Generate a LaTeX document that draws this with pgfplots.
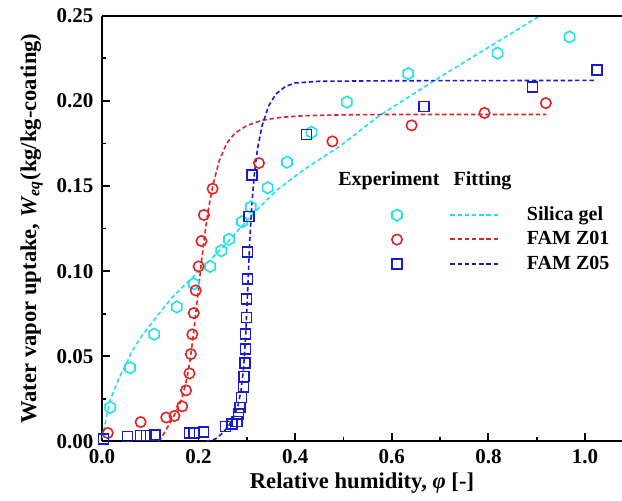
\documentclass[border=0pt]{standalone}
\usepackage{fontspec}
\setmainfont{Liberation Serif}
\usepackage{pgfplots}
\pgfplotsset{compat=1.18}
\definecolor{mycyan}{RGB}{30,225,235}
\definecolor{myred}{RGB}{225,35,35}
\definecolor{myblue}{RGB}{25,25,205}
\pgfdeclareplotmark{hexagon}{%
  \pgfpathmoveto{\pgfqpointpolar{90}{\pgfplotmarksize}}%
  \pgfpathlineto{\pgfqpointpolar{150}{\pgfplotmarksize}}%
  \pgfpathlineto{\pgfqpointpolar{210}{\pgfplotmarksize}}%
  \pgfpathlineto{\pgfqpointpolar{270}{\pgfplotmarksize}}%
  \pgfpathlineto{\pgfqpointpolar{330}{\pgfplotmarksize}}%
  \pgfpathlineto{\pgfqpointpolar{30}{\pgfplotmarksize}}%
  \pgfpathclose
  \pgfusepathqstroke}
\pgfplotsset{
  legimg/.style n args={4}{legend image code/.code={%
    \begin{scope}[yshift=#4]
    \draw[color=#2, line width=0.85pt, dash pattern=on 2.2pt off 1.4pt] (0pt,0pt) -- (24.2pt,0pt);
    \end{scope}
    \path[draw=#2, solid, line width=0.8pt] plot[mark=#1, mark size=#3, mark options={solid}] coordinates {(-26.7pt,0pt)};
    \path (35.9pt,0pt);}},
}
\begin{document}
\begin{tikzpicture}
\begin{axis}[
  scale only axis, width=260pt, height=212.9pt,
  xmin=0, xmax=1.0766, ymin=0, ymax=0.25,
  axis lines=left,
  axis line style={-, line width=1pt},
  xtick={0,0.2,0.4,0.6,0.8,1.0},
  ytick={0,0.05,0.1,0.15,0.2,0.25},
  minor x tick num=1, minor y tick num=1,
  tick align=inside,
  major tick length=4pt, minor tick length=2.2pt,
  every tick/.style={black, solid, line width=0.9pt},
  scaled ticks=false,
  tick label style={font=\fontsize{10.5}{12}\selectfont\bfseries},
  /pgf/number format/.cd, fixed, fixed zerofill, precision=2, assume math mode=true,
  /pgfplots/.cd,
  xticklabel style={/pgf/number format/precision=1, yshift=-0.5pt},
  yticklabel style={xshift=-0.8pt},
  label style={font=\fontsize{11.3}{13}\selectfont\bfseries},
  xlabel={Relative humidity, \textit{φ} [-]},
  ylabel={Water vapor uptake, \textit{W}\textsubscript{\textit{eq}}(kg/kg-coating)},
  xlabel style={yshift=2.5pt},
  ylabel style={yshift=0pt},
  legend columns=1,
  legend cell align=left,
  legend style={draw=none, fill=none, font=\fontsize{10}{12}\selectfont\bfseries,
    inner sep=0pt, outer sep=0pt,
    at={(axis cs:0.600,0.1388)}, anchor=north west, row sep=2.25pt,
    nodes={text height=7pt, text depth=2pt, inner ysep=0.5pt}},
]
\coordinate (SW) at (rel axis cs:0,0);
\coordinate (NE) at (rel axis cs:1,1);
\addplot[only marks, solid, mark=hexagon, mark size=2.9pt, draw=mycyan, mark options={solid, line width=0.8pt}, forget plot] coordinates {
(0.017,0.020) (0.058,0.0433) (0.108,0.063) (0.155,0.079) (0.19,0.0926)
(0.224,0.1028) (0.247,0.112) (0.263,0.1187) (0.29,0.129) (0.308,0.1377)
(0.343,0.149) (0.383,0.164) (0.434,0.1815) (0.507,0.1993) (0.634,0.216)
(0.819,0.228) (0.968,0.2375)};
\addplot[draw=mycyan, line width=0.8pt, dash pattern=on 2.2pt off 1.4pt, legimg={hexagon}{mycyan}{2.9pt}{0pt}] coordinates {
(0,0.002) (0.003,0.004) (0.008,0.013) (0.0166,0.024) (0.035,0.037) (0.051,0.046)
(0.0615,0.0527) (0.085,0.063) (0.113,0.0732) (0.145,0.0845) (0.182,0.0948)
(0.215,0.104) (0.251,0.1143) (0.285,0.125) (0.320,0.1358) (0.362,0.1476)
(0.42,0.160) (0.493,0.1735) (0.5756,0.1916) (0.7,0.214) (0.907,0.25)};
\addlegendentry{Silica gel}
\addplot[only marks, solid, mark=o, mark size=2.6pt, draw=myred, mark options={solid, line width=0.8pt}, forget plot] coordinates {
(0.012,0.005) (0.08,0.0114) (0.133,0.0141) (0.15,0.015) (0.166,0.0206)
(0.174,0.030) (0.181,0.040) (0.184,0.0513) (0.187,0.0629) (0.19,0.0754)
(0.194,0.0887) (0.2,0.1028) (0.206,0.1177) (0.211,0.133) (0.229,0.1484)
(0.325,0.1635) (0.477,0.1762) (0.641,0.1856) (0.792,0.1929) (0.919,0.1987)};
\addplot[draw=myred, line width=0.8pt, dash pattern=on 2.2pt off 1.4pt, legimg={o}{myred}{2.6pt}{0.25pt}] coordinates {
(0.117,0) (0.125,0.003) (0.135,0.008) (0.147,0.014) (0.158,0.02) (0.167,0.027)
(0.175,0.036) (0.182,0.047) (0.188,0.06) (0.194,0.075) (0.2,0.09) (0.206,0.106)
(0.213,0.122) (0.22,0.136) (0.23,0.151) (0.243,0.165) (0.258,0.175) (0.275,0.181)
(0.3,0.1855) (0.33,0.1885) (0.37,0.1903) (0.42,0.1913) (0.5,0.1918) (0.6,0.192) (0.92,0.192)};
\addlegendentry{FAM Z01}
\addplot[only marks, solid, mark=square, mark size=2.5pt, draw=myblue, mark options={solid, line width=0.8pt}, forget plot] coordinates {
(0.003,0.0015) (0.053,0.003) (0.08,0.0035) (0.092,0.0035) (0.11,0.0037)
(0.181,0.0049) (0.19,0.0049) (0.21,0.0057) (0.256,0.0088) (0.269,0.0104)
(0.279,0.0117) (0.283,0.0163) (0.286,0.020) (0.289,0.0258) (0.293,0.0319)
(0.294,0.0382) (0.296,0.046) (0.297,0.0542) (0.297,0.0632) (0.299,0.0728)
(0.299,0.0836) (0.301,0.0954) (0.301,0.1112) (0.304,0.1322) (0.31,0.1566)
(0.423,0.1803) (0.667,0.1968) (0.891,0.208) (1.025,0.218)};
\addplot[draw=myblue, line width=0.8pt, dash pattern=on 2.2pt off 1.4pt, legimg={square}{myblue}{2.5pt}{0pt}] coordinates {
(0.215,0) (0.235,0.0015) (0.25,0.005) (0.262,0.009) (0.272,0.014) (0.281,0.0205)
(0.288,0.030) (0.293,0.043) (0.297,0.060) (0.300,0.078) (0.303,0.098) (0.306,0.118)
(0.310,0.138) (0.315,0.156) (0.322,0.172) (0.332,0.186) (0.345,0.197) (0.36,0.204)
(0.38,0.2085) (0.40,0.2105) (0.45,0.2115) (0.6,0.2118) (1.02,0.212)};
\addlegendentry{FAM Z05}
\draw[line width=1pt] (rel axis cs:0,1) -- (rel axis cs:1,1);
\node[font=\fontsize{10}{12}\selectfont\bfseries, anchor=base] at (axis cs:0.594,0.1505) {Experiment};
\node[font=\fontsize{10}{12}\selectfont\bfseries, anchor=base] at (axis cs:0.788,0.1505) {Fitting};
\end{axis}
\pgfresetboundingbox
\path ([xshift=-51pt,yshift=-29.75pt]SW) rectangle ([yshift=7.85pt]NE);
\end{tikzpicture}
\end{document}
